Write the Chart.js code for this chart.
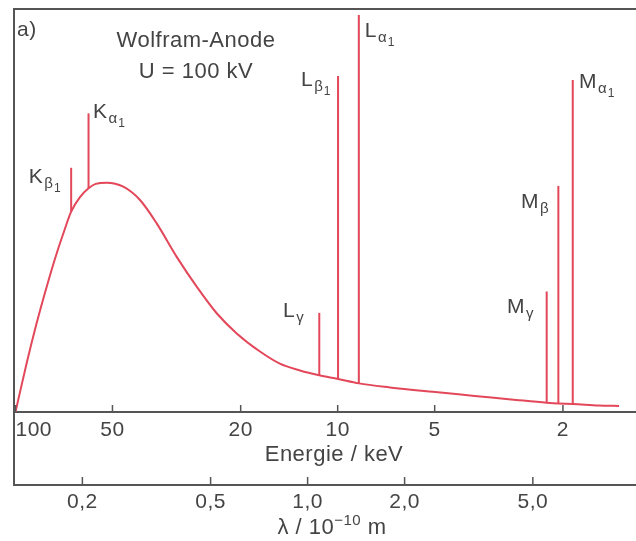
<!DOCTYPE html>
<html>
<head>
<meta charset="utf-8">
<script src="https://cdn.jsdelivr.net/npm/chart.js@4.4.0/dist/chart.umd.min.js"></script>
<style>
  html, body { margin: 0; padding: 0; background: #fff; }
  #box { width: 636px; height: 541px; }
</style>
</head>
<body>
<div id="box"><canvas id="spec" width="636" height="541"></canvas></div>
<script>
// continuum, wavelength in 1e-10 m, intensity in arbitrary units (0..100)
var lambda    = [0.124, 0.1343, 0.1442, 0.1550, 0.1665, 0.1754, 0.1846, 0.1966, 0.2090, 0.2200, 0.2379, 0.2679, 0.3019, 0.3401, 0.3925, 0.4527, 0.5223, 0.6025, 0.7116, 0.82, 0.947, 1.087, 1.243, 1.442, 1.8, 2.445, 3.3, 4.435, 5.52, 6.0, 6.65, 8.0, 9.26];
var intensity = [0, 12.1, 22.0, 31.1, 39.4, 44.8, 49.7, 53.3, 55.5, 56.6, 56.9, 55.9, 52.6, 46.8, 38.5, 31.1, 24.5, 19.5, 15.0, 12.0, 10.3, 9.1, 8.2, 7.1, 6.1, 5.0, 4.0, 3.0, 2.3, 2.1, 2.0, 1.6, 1.5];

// characteristic lines
var lineNames  = [['K', 'β', '1'], ['K', 'α', '1'], ['L', 'γ', ''], ['L', 'β', '1'], ['L', 'α', '1'], ['M', 'γ', ''], ['M', 'β', ''], ['M', 'α', '1']];
var lineLambda = [0.1846, 0.2090, 1.087, 1.243, 1.442, 5.52, 6.0, 6.65];
var lineTop    = [60.6, 74.1, 24.6, 83.4, 98.5, 29.9, 56.1, 82.4];

// axes
var energyTicks  = [100, 50, 20, 10, 5, 2];
var lambdaTicks  = [0.2, 0.5, 1.0, 2.0, 5.0];
var lambdaLabels = ['0,2', '0,5', '1,0', '2,0', '5,0'];
var lamMin = 0.1227, lamMax = 10.45;
var hc = 12.398; // keV * 1e-10 m

var fam = "'Liberation Sans', Arial, Helvetica, sans-serif";
var red = '#e3475a';
var ink = '#444';

Chart.defaults.font.family = fam;
Chart.defaults.color = ink;

// label offsets from the top of each line: dx, dy, which side
var labelPos = [[-10, 0, 'right'], [4.5, -10, 'left'], [-15, -11, 'right'], [-7, -5, 'right'],
                [6, 6.7, 'left'], [-12.7, 6.3, 'right'], [-9.3, 7, 'right'], [6.3, -6.7, 'left']];

function drawLabel(ctx, parts, x, capTop, side) {
    ctx.font = '21px ' + fam; var w1 = ctx.measureText(parts[0]).width;
    ctx.font = '15px ' + fam; var w2 = ctx.measureText(parts[1]).width;
    ctx.font = '12px ' + fam; var w3 = parts[2] ? ctx.measureText(parts[2]).width + 0.5 : 0;
    var total = w1 + 1 + w2 + w3;
    var x0 = side == 'right' ? x - total : x;
    var base = capTop + 15;
    ctx.textAlign = 'left';
    ctx.textBaseline = 'alphabetic';
    ctx.font = '21px ' + fam; ctx.fillText(parts[0], x0, base);
    ctx.font = '15px ' + fam; ctx.fillText(parts[1], x0 + w1 + 1, base + 5);
    if (parts[2]) { ctx.font = '12px ' + fam; ctx.fillText(parts[2], x0 + w1 + 1 + w2 + 0.5, base + 9); }
}

var frame = {
    id: 'frame',
    beforeDraw: function (chart) {
        chart.ctx.letterSpacing = '0.5px';
    },
    afterDraw: function (chart) {
        var ctx = chart.ctx, a = chart.chartArea;
        var e = chart.scales.e, x = chart.scales.x, y = chart.scales.y;
        ctx.save();
        ctx.strokeStyle = '#555';
        ctx.lineWidth = 2;
        ctx.beginPath();
        ctx.moveTo(a.left, x.top);
        ctx.lineTo(a.left, a.top);
        ctx.lineTo(chart.width, a.top);
        ctx.stroke();

        // tick marks point up from the axis lines
        ctx.lineWidth = 1.5;
        energyTicks.forEach(function (v) {
            var p = e.getPixelForValue(v);
            ctx.beginPath(); ctx.moveTo(p, e.top); ctx.lineTo(p, e.top - 7); ctx.stroke();
        });
        lambdaTicks.forEach(function (v) {
            var p = x.getPixelForValue(v);
            ctx.beginPath(); ctx.moveTo(p, x.top); ctx.lineTo(p, x.top - 8); ctx.stroke();
        });

        ctx.fillStyle = ink;
        ctx.font = '21px ' + fam;
        ctx.textAlign = 'left';
        ctx.textBaseline = 'alphabetic';
        ctx.fillText('a)', a.left + 3, 35.5);
        ctx.font = '22px ' + fam;
        ctx.textAlign = 'center';
        ctx.fillText('Wolfram-Anode', 196, 46.7);
        ctx.fillText('U = 100 kV', 196, 78.3);

        // axis titles (the energy title space is reserved by the scale)
        ctx.fillText('Energie / keV', 334, 460.5);
        ctx.textAlign = 'left';
        ctx.font = '22px ' + fam; var t1 = ctx.measureText('λ / 10').width;
        ctx.font = '15px ' + fam; var t2 = ctx.measureText('−10').width;
        ctx.font = '22px ' + fam; var t3 = ctx.measureText(' m').width;
        var tx = 332 - (t1 + t2 + t3) / 2, tb = 534;
        ctx.font = '22px ' + fam; ctx.fillText('λ / 10', tx, tb);
        ctx.font = '15px ' + fam; ctx.fillText('−10', tx + t1, tb - 9);
        ctx.font = '22px ' + fam; ctx.fillText(' m', tx + t1 + t2, tb);

        for (var i = 0; i < lineNames.length; i++) {
            var px = x.getPixelForValue(lineLambda[i]);
            var py = y.getPixelForValue(lineTop[i]);
            drawLabel(ctx, lineNames[i], px + labelPos[i][0], py + labelPos[i][1], labelPos[i][2]);
        }
        ctx.restore();
    }
};

var datasets = [{
    data: lambda.map(function (l, i) { return { x: l, y: intensity[i] }; }),
    borderColor: red, borderWidth: 2, pointRadius: 0,
    cubicInterpolationMode: 'monotone', xAxisID: 'x'
}];
lineLambda.forEach(function (l, i) {
    var base = intensity[lambda.indexOf(l)];
    datasets.push({
        data: [{ x: l, y: base }, { x: l, y: lineTop[i] }],
        borderColor: red, borderWidth: 2, pointRadius: 0, xAxisID: 'x'
    });
});

new Chart(document.getElementById('spec'), {
    type: 'line',
    data: { datasets: datasets },
    plugins: [frame],
    options: {
        responsive: false,
        animation: false,
        events: [],
        layout: { padding: { left: 14, top: 9, right: 0, bottom: 22 } },
        plugins: { legend: { display: false }, tooltip: { enabled: false } },
        scales: {
            y: { display: false, min: 0, max: 100 },
            e: {
                type: 'logarithmic', position: 'bottom', weight: 1, reverse: true,
                min: hc / lamMax, max: hc / lamMin,
                afterBuildTicks: function (s) {
                    s.ticks = [{ value: hc / lamMax }].concat(energyTicks.slice().reverse().map(function (v) { return { value: v }; }));
                },
                ticks: {
                    autoSkip: false, maxRotation: 0, align: 'inner', padding: 7.5, color: ink,
                    font: { size: 21, lineHeight: 1 },
                    callback: function (v) { return energyTicks.indexOf(v) >= 0 ? String(v) : ''; }
                },
                grid: { display: true, drawOnChartArea: false, drawTicks: false },
                border: { display: true, color: '#555', width: 2 },
                title: { display: true, text: ' ', font: { size: 22, lineHeight: 1 }, padding: { top: -6.5, bottom: 21.5 } }
            },
            x: {
                type: 'logarithmic', position: 'bottom', weight: 2,
                min: lamMin, max: lamMax,
                afterBuildTicks: function (s) {
                    s.ticks = lambdaTicks.map(function (v) { return { value: v }; });
                },
                ticks: {
                    autoSkip: false, maxRotation: 0, padding: 6.5, color: ink,
                    font: { size: 21, lineHeight: 1 },
                    callback: function (v, i) { return lambdaLabels[i]; }
                },
                grid: { display: true, drawOnChartArea: false, drawTicks: false },
                border: { display: true, color: '#555', width: 2 }
            }
        }
    }
});
</script>
</body>
</html>
